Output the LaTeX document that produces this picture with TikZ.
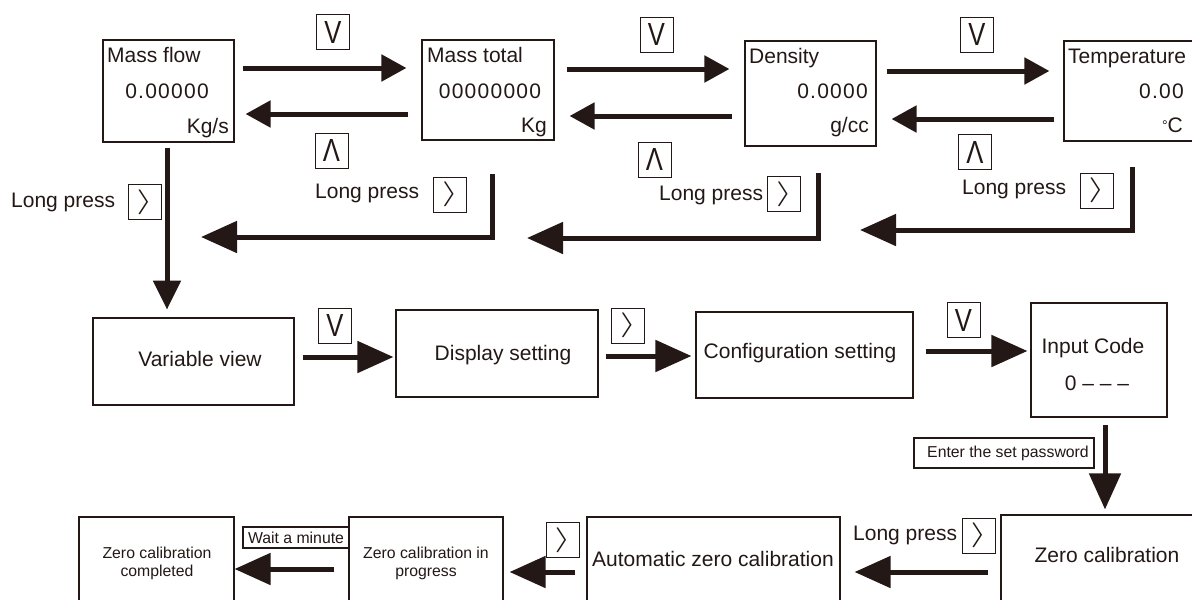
\documentclass[tikz,border=0pt]{standalone}
\usepackage{fontspec}
\setmainfont{Liberation Sans}
\usetikzlibrary{arrows.meta,calc}
\definecolor{ink}{HTML}{231815}
\tikzset{
  box/.style={draw=ink, line width=1.1pt, inner sep=0pt},
  txt/.style={text=ink, inner sep=0pt, font=\fontsize{21}{25}\selectfont},
  num/.style={text=ink, inner sep=0pt, font=\fontsize{21}{25}\selectfont\addfontfeature{LetterSpace=6}},
  small/.style={text=ink, inner sep=0pt, font=\fontsize{15.8}{18}\selectfont, align=center},
  key/.style={draw=ink, line width=1pt, minimum width=33pt, minimum height=35pt, inner sep=0pt, text=ink},
  conn/.style={draw=ink, line width=5pt},
  arrS/.style={conn, -{Triangle[length=25pt,width=26pt]}},
  arrL/.style={conn, -{Triangle[length=36pt,width=31pt]}},
  arrD/.style={conn, -{Triangle[length=29pt,width=27pt]}},
}
% key glyphs: down, up and right buttons
\newcommand{\keyDown}{\scalebox{0.8}[1]{\fontsize{32}{32}\selectfont V}}
\newcommand{\keyUp}{\scalebox{0.8}[1]{\fontsize{32}{32}\selectfont Λ}}
\newcommand{\keyRight}{\scalebox{1.7}[1]{\fontsize{25}{25}\selectfont$\rangle$}}
\begin{document}
\begin{tikzpicture}[x=1pt, y=-1pt]
\clip (0,0) rectangle (1192,600);
\fill[white] (0,0) rectangle (1192,600);

% ---- top row: measured values ----
\node[box, minimum width=131pt, minimum height=102pt] (mf) at (168.5,91) {};
\node[txt, anchor=base west] (mfa) at (107,62) {Mass flow};
\node[num, anchor=base] (mfb) at (167,98) {0.00000};
\node[txt, anchor=base east] (mfc) at (229,133) {Kg/s};

\node[box, minimum width=132pt, minimum height=100pt] (mt) at (488,90) {};
\node[txt, anchor=base west] (mta) at (427,62) {Mass total};
\node[num, anchor=base] (mtb) at (490,98) {00000000};
\node[txt, anchor=base east] (mtc) at (547,132) {Kg};

\node[box, minimum width=131pt, minimum height=105pt] (de) at (810.5,93.5) {};
\node[txt, anchor=base west] (dea) at (749,63) {Density};
\node[num, anchor=base east] (deb) at (868,98) {0.0000};
\node[txt, anchor=base east] (dec) at (869,132) {g/cc};

\node[box, minimum width=131pt, minimum height=100pt] (te) at (1129.5,91) {};
\node[txt, anchor=base west] (tea) at (1068,63) {Temperature};
\node[num, anchor=base east] (teb) at (1184,98) {0.00};
\node[txt, anchor=base east] (tec) at (1183,132) {\fontsize{14}{14}\selectfont\raisebox{2pt}{°}\fontsize{21}{25}\selectfont C};

% keys of the top row
\node[key] (v1) at (333,32) {\keyDown};
\node[key] (v2) at (656.5,34.5) {\keyDown};
\node[key] (v3) at (977,34.5) {\keyDown};
\node[key] (u1) at (331.5,150.5) {\keyUp};
\node[key] (u2) at (654.5,159.5) {\keyUp};
\node[key] (u3) at (975,152) {\keyUp};

\node[txt, anchor=base west] (lp0) at (11,207) {Long press};
\node[key] (g0) at (144.5,202) {\keyRight};
\node[txt, anchor=base west] (lp1) at (315,198) {Long press};
\node[key] (g1) at (450,194.5) {\keyRight};
\node[txt, anchor=base west] (lp2) at (659,200) {Long press};
\node[key] (g2) at (784,194) {\keyRight};
\node[txt, anchor=base west] (lp3) at (962,194) {Long press};
\node[key] (g3) at (1096.5,190.5) {\keyRight};

% forward and backward scrolling
\draw[arrS] ($(mf.east)+(8,-23)$) -- ($(mt.west)+(-15,-22)$);
\draw[arrS] ($(mt.east)+(12,-21)$) -- ($(de.west)+(-15,-24.5)$);
\draw[arrS] ($(de.east)+(10,-22.5)$) -- ($(te.west)+(-14,-20)$);
\draw[arrS] ($(mt.west)+(-13,24)$) -- ($(mf.east)+(11,23)$);
\draw[arrS] ($(de.west)+(-12,22.5)$) -- ($(mt.east)+(15,26)$);
\draw[arrS] ($(te.west)+(-9,28)$) -- ($(de.east)+(15,25.5)$);

% long press returns
\coordinate (r1s) at (492,174);
\coordinate (r1e) at (201,237);
\coordinate (r2s) at (818,173);
\coordinate (r2e) at (527,238);
\coordinate (r3s) at (1132,167);
\coordinate (r3e) at (860,230);
\draw[arrL, line join=miter] (r1s) |- (r1e);
\draw[arrL, line join=miter] (r2s) |- (r2e);
\draw[arrL, line join=miter] (r3s) |- (r3e);

% ---- middle row: menus ----
\node[box, minimum width=201pt, minimum height=87pt] (vv) at (193.5,361.5) {};
\node[txt, anchor=base] (vvt) at (200,366) {Variable view};
\node[box, minimum width=202pt, minimum height=87pt] (ds) at (497,353.5) {};
\node[txt, anchor=base] (dst) at (503,360) {Display setting};
\node[box, minimum width=217pt, minimum height=86pt] (cs) at (804.5,355) {};
\node[txt, anchor=base] (cst) at (800,358) {Configuration setting};
\node[box, minimum width=136pt, minimum height=114pt] (ic) at (1099,360) {};
\node[txt, anchor=base] (ica) at (1093,353) {Input Code};
\node[txt, anchor=base] (icb) at (1097,390) {0 – – –};

\node[key] (v4) at (335,325.5) {\keyDown};
\node[key] (g4) at (628,325.5) {\keyRight};
\node[key] (v5) at (963.5,320) {\keyDown};

\draw[arrD] ($(mf.south)+(-1.5,5)$) -- ($(mf.south)+(-1.5,167)$);
\draw[arrL] ($(vv.east)+(8,-4.5)$) -- ($(ds.west)+(-2,3.5)$);
\draw[arrL] ($(ds.east)+(7,2.5)$) -- ($(cs.west)+(-4,1)$);
\draw[arrL] ($(cs.east)+(12,-4)$) -- ($(ic.west)+(-3,-9)$);

\node[box, small, minimum width=180pt, minimum height=30pt] (pw) at (1004,453) {\hspace{8pt}Enter the set password};

% ---- bottom row: zero calibration ----
\node[box, minimum width=155pt, minimum height=103pt] (zc1) at (156.5,568.5) {};
\node[small] (zc1t) at (157,563) {Zero calibration\\completed};
\node[box, small, minimum width=106pt, minimum height=21pt] (wm) at (296,537.5) {Wait a minute};
\node[box, minimum width=154pt, minimum height=103pt] (zc2) at (426,568.5) {};
\node[small] (zc2t) at (426,563) {Zero calibration in\\progress};
\node[box, minimum width=253pt, minimum height=103pt] (az) at (713.5,568.5) {};
\node[txt, anchor=base] (azt) at (713,566) {Automatic zero calibration};
\node[box, minimum width=214pt, minimum height=104pt] (zc) at (1108,567) {};
\node[txt, anchor=base] (zct) at (1107,562) {Zero calibration};

\node[txt, anchor=base west] (lp4) at (853,540) {Long press};
\node[key] (g5) at (978.5,535.5) {\keyRight};
\node[key] (g6) at (562.5,540) {\keyRight};

\draw[arrL] ($(ic.south)+(6,7)$) -- ($(zc.north)+(-3,-5)$);
\draw[arrL] ($(zc.west)+(-12,5)$) -- ($(az.east)+(14,3.5)$);
\draw[arrL] ($(az.west)+(-11,3.5)$) -- ($(zc2.east)+(6,3.5)$);
\draw[arrL] ($(zc2.west)+(-14,0.5)$) -- ($(zc1.east)+(0,0.5)$);
\end{tikzpicture}
\end{document}
